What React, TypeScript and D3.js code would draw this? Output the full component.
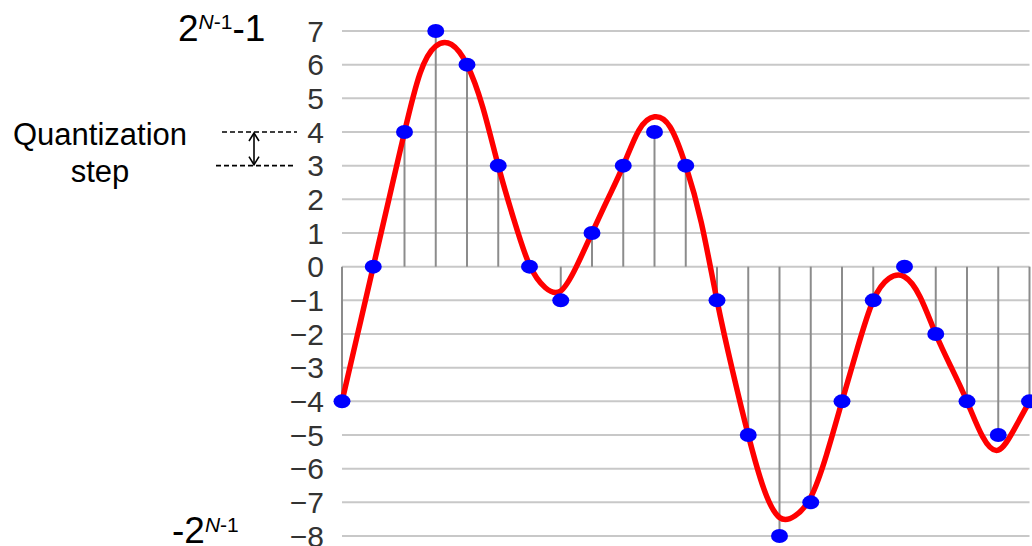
import * as React from 'react'
import * as d3 from 'd3'

// quantized sample values (one per sample instant)
const samples = [-4, 0, 4, 7, 6, 3, 0, -1, 1, 3, 4, 3, -1, -5, -8, -7, -4, -1, 0, -2, -4, -5, -4]

// analog signal, read at half-sample steps
const signalT = [
    0, 0.5, 1, 1.5, 2, 2.5, 3, 3.5, 4, 4.5, 5, 5.5, 6, 6.5, 7, 7.5, 8, 8.5, 9, 9.5, 10, 10.5, 11,
    11.5, 12, 12.5, 13, 13.5, 14, 14.5, 15, 15.5, 16, 16.5, 17, 17.5, 18, 18.5, 19, 19.5, 20, 20.5, 21, 21.5, 22,
]
const signalV = [
    -4.0, -2.0, 0.0, 2.0, 4.0, 5.75, 6.55, 6.6, 6.0, 4.75, 3.0, 1.4, 0.05, -0.62, -0.72, 0.0, 1.0, 2.0, 3.0, 4.05, 4.45, 4.15, 3.0,
    1.3, -1.0, -3.1, -5.0, -6.6, -7.45, -7.4, -6.85, -5.6, -4.0, -2.4, -1.0, -0.35, -0.3, -0.9, -2.0, -3.0, -4.0, -5.05, -5.45, -4.85, -4.0,
]

const levels = d3.range(-8, 8)

export default function App() {
    const W = 1032
    const H = 546
    const FONT = '"Liberation Sans", Arial, sans-serif'

    const x = d3.scaleLinear().domain([0, samples.length - 1]).range([342, 1029.5])
    const y = d3.scaleLinear().domain([-8, 7]).range([536, 31])

    const line = d3.line<number>()
        .x((_, i) => x(signalT[i]))
        .y(v => y(v))
        .curve(d3.curveNatural)

    const fmt = (v: number) => (v < 0 ? '\u2212' + Math.abs(v) : String(v))

    return <svg width={W} height={H} viewBox={`0 0 ${W} ${H}`}
        style={{ position: 'absolute', left: 0, top: 0, background: '#fff' }} fontFamily={FONT}>

        {/* grid */}
        <g stroke="#c8c8c8" strokeWidth={2}>
            {levels.map(l =>
                <line key={l} x1={x(0)} x2={x(samples.length - 1)} y1={y(l)} y2={y(l)} />
            )}
        </g>

        {/* tick labels */}
        <g fontSize={30} fill="#333" textAnchor="end">
            {levels.map(l =>
                <text key={l} x={324} y={y(l)} dy="0.36em">{fmt(l)}</text>
            )}
        </g>

        {/* stems */}
        <g stroke="#8c8c8c" strokeWidth={2}>
            {samples.map((s, i) =>
                <line key={i} x1={x(i)} x2={x(i)} y1={y(0)} y2={y(s)} />
            )}
        </g>

        {/* analog signal */}
        <path d={line(signalV) || ''} fill="none" stroke="#ff0000" strokeWidth={5.5} strokeLinecap="round" />

        {/* samples */}
        <g fill="#0000ff">
            {samples.map((s, i) =>
                <ellipse key={i} cx={x(i)} cy={y(s)} rx={8.5} ry={7} />
            )}
        </g>

        {/* range annotations */}
        <text x={178} y={41} fontSize={37} fill="#000">
            2<tspan fontSize={21} dy={-12}><tspan fontStyle="italic">N</tspan>-1</tspan><tspan dy={12}>-1</tspan>
        </text>
        <text x={172} y={543} fontSize={37} fill="#000">
            -2<tspan fontSize={21} dy={-11}><tspan fontStyle="italic">N</tspan>-1</tspan>
        </text>

        {/* quantization step */}
        <g fontSize={31} fill="#000" textAnchor="middle">
            <text x={100} y={145}>Quantization</text>
            <text x={100} y={182}>step</text>
        </g>
        <g stroke="#000" strokeWidth={1.6} fill="none">
            <line x1={222} x2={297} y1={y(4)} y2={y(4)} strokeDasharray="5 3" />
            <line x1={216} x2={294} y1={y(3)} y2={y(3)} strokeDasharray="5 3" />
            <line x1={254} x2={254} y1={y(4) + 1} y2={y(3) - 1} />
            <path d={`M249,${y(4) + 9} L254,${y(4) + 1} L259,${y(4) + 9}`} />
            <path d={`M249,${y(3) - 9} L254,${y(3) - 1} L259,${y(3) - 9}`} />
        </g>
    </svg>
}
